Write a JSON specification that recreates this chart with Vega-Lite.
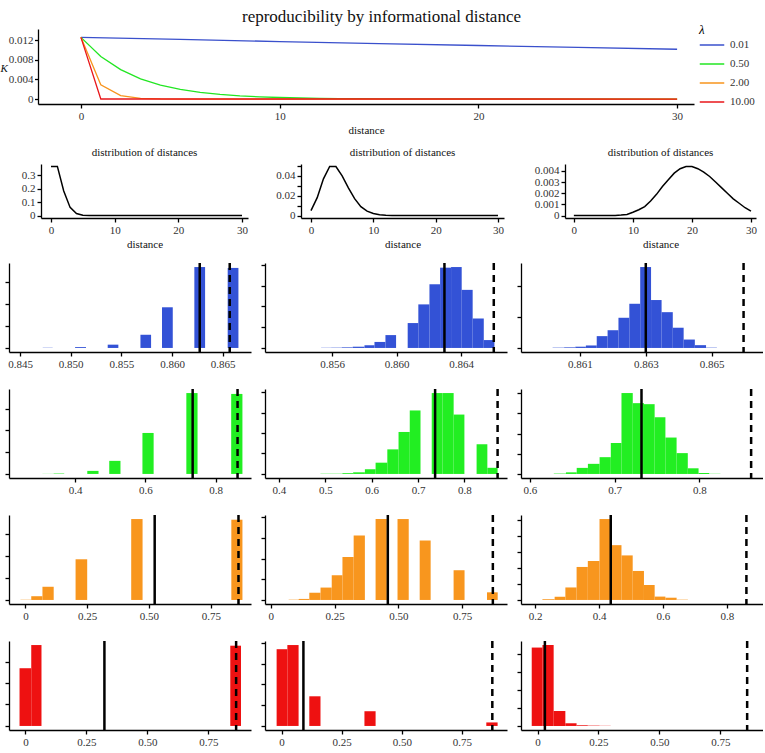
{
"$schema": "https://vega.github.io/schema/vega-lite/v6.json",
"padding": {"left": 0, "top": 8, "right": 0, "bottom": 0},
"background": "white",
"title": {"text": "reproducibility by informational distance", "fontSize": 17, "font": "Liberation Serif", "fontWeight": "normal", "anchor": "middle", "offset": -2, "color": "#111"},
"config": {
  "font": "Liberation Serif",
  "view": {"stroke": null},
  "style": {"guide-label": {"font": "Liberation Serif"}, "guide-title": {"font": "Liberation Serif"}, "group-title": {"font": "Liberation Serif"}},
  "axis": {"grid": false, "domainColor": "#000", "domainWidth": 1.3, "tickColor": "#000", "tickWidth": 1.3, "tickSize": 4, "labelFont": "Liberation Serif", "labelFontSize": 11, "labelColor": "#333", "labelPadding": 2, "titleFont": "Liberation Serif", "titleFontSize": 11, "titleFontWeight": "normal", "titleColor": "#111"},
  "legend": {"labelFont": "Liberation Serif", "titleFont": "Liberation Serif", "labelFontSize": 11, "labelColor": "#333"},
  "title": {"font": "Liberation Serif", "fontWeight": "normal", "color": "#111"}
},
"datasets": {
  "k": [
    {"lam": "0.01", "d": 0, "K": 0.01255}, {"lam": "0.01", "d": 5, "K": 0.01213}, {"lam": "0.01", "d": 10, "K": 0.0117}, {"lam": "0.01", "d": 15, "K": 0.01129}, {"lam": "0.01", "d": 20, "K": 0.01089}, {"lam": "0.01", "d": 25, "K": 0.0105}, {"lam": "0.01", "d": 30, "K": 0.01013},
    {"lam": "0.50", "d": 0, "K": 0.01255}, {"lam": "0.50", "d": 1, "K": 0.00866}, {"lam": "0.50", "d": 2, "K": 0.00598}, {"lam": "0.50", "d": 3, "K": 0.00412}, {"lam": "0.50", "d": 4, "K": 0.00285}, {"lam": "0.50", "d": 5, "K": 0.00196}, {"lam": "0.50", "d": 6, "K": 0.00135}, {"lam": "0.50", "d": 7, "K": 0.00093}, {"lam": "0.50", "d": 8, "K": 0.00064}, {"lam": "0.50", "d": 9, "K": 0.00044}, {"lam": "0.50", "d": 10, "K": 0.00031}, {"lam": "0.50", "d": 11, "K": 0.00021}, {"lam": "0.50", "d": 12, "K": 0.00015}, {"lam": "0.50", "d": 13, "K": 0.0001}, {"lam": "0.50", "d": 14, "K": 0.00007}, {"lam": "0.50", "d": 15, "K": 0.00005}, {"lam": "0.50", "d": 20, "K": 0.00001}, {"lam": "0.50", "d": 30, "K": 0},
    {"lam": "2.00", "d": 0, "K": 0.01255}, {"lam": "2.00", "d": 1, "K": 0.0029}, {"lam": "2.00", "d": 2, "K": 0.0007}, {"lam": "2.00", "d": 3, "K": 0.00015}, {"lam": "2.00", "d": 4, "K": 0.00003}, {"lam": "2.00", "d": 5, "K": 0}, {"lam": "2.00", "d": 30, "K": 0},
    {"lam": "10.00", "d": 0, "K": 0.01255}, {"lam": "10.00", "d": 1, "K": 0.00001}, {"lam": "10.00", "d": 30, "K": 0}
  ],
  "dist": [
    {"g": "a", "d": 0, "y": 0.368}, {"g": "a", "d": 1, "y": 0.368}, {"g": "a", "d": 2, "y": 0.184}, {"g": "a", "d": 3, "y": 0.061}, {"g": "a", "d": 4, "y": 0.015}, {"g": "a", "d": 5, "y": 0.003}, {"g": "a", "d": 6, "y": 0.0005}, {"g": "a", "d": 7, "y": 0.0001}, {"g": "a", "d": 8, "y": 0}, {"g": "a", "d": 30, "y": 0},
    {"g": "b", "d": 0, "y": 0.005}, {"g": "b", "d": 1, "y": 0.018}, {"g": "b", "d": 2, "y": 0.037}, {"g": "b", "d": 3, "y": 0.0495}, {"g": "b", "d": 4, "y": 0.0495}, {"g": "b", "d": 5, "y": 0.04}, {"g": "b", "d": 6, "y": 0.028}, {"g": "b", "d": 7, "y": 0.017}, {"g": "b", "d": 8, "y": 0.009}, {"g": "b", "d": 9, "y": 0.0045}, {"g": "b", "d": 10, "y": 0.002}, {"g": "b", "d": 11, "y": 0.0008}, {"g": "b", "d": 12, "y": 0.0003}, {"g": "b", "d": 13, "y": 0.0001}, {"g": "b", "d": 14, "y": 0}, {"g": "b", "d": 30, "y": 0},
    {"g": "c", "d": 0, "y": 0}, {"g": "c", "d": 6, "y": 0}, {"g": "c", "d": 7, "y": 0.00001}, {"g": "c", "d": 8, "y": 0.00004}, {"g": "c", "d": 9, "y": 0.0001}, {"g": "c", "d": 10, "y": 0.0003}, {"g": "c", "d": 11, "y": 0.00052}, {"g": "c", "d": 12, "y": 0.0008}, {"g": "c", "d": 13, "y": 0.0013}, {"g": "c", "d": 14, "y": 0.0019}, {"g": "c", "d": 15, "y": 0.0026}, {"g": "c", "d": 16, "y": 0.0032}, {"g": "c", "d": 17, "y": 0.0038}, {"g": "c", "d": 18, "y": 0.0042}, {"g": "c", "d": 19, "y": 0.0044}, {"g": "c", "d": 20, "y": 0.0044}, {"g": "c", "d": 21, "y": 0.0042}, {"g": "c", "d": 22, "y": 0.0039}, {"g": "c", "d": 23, "y": 0.0035}, {"g": "c", "d": 24, "y": 0.003}, {"g": "c", "d": 25, "y": 0.0025}, {"g": "c", "d": 26, "y": 0.002}, {"g": "c", "d": 27, "y": 0.0015}, {"g": "c", "d": 28, "y": 0.0011}, {"g": "c", "d": 29, "y": 0.0007}, {"g": "c", "d": 30, "y": 0.0004}
  ],
  "h": [
    {"p": "r1c1", "x0": 0.84724, "x1": 0.84822, "n": 0.01}, {"p": "r1c1", "x0": 0.85043, "x1": 0.85151, "n": 0.04}, {"p": "r1c1", "x0": 0.85365, "x1": 0.8547, "n": 0.15}, {"p": "r1c1", "x0": 0.85688, "x1": 0.85793, "n": 0.6}, {"p": "r1c1", "x0": 0.85901, "x1": 0.86007, "n": 1.85}, {"p": "r1c1", "x0": 0.8622, "x1": 0.86326, "n": 3.68}, {"p": "r1c1", "x0": 0.86549, "x1": 0.86655, "n": 3.64},
    {"p": "r1c2", "x0": 0.85532, "x1": 0.85594, "n": 0.01}, {"p": "r1c2", "x0": 0.85594, "x1": 0.8566, "n": 0.015}, {"p": "r1c2", "x0": 0.8566, "x1": 0.85728, "n": 0.03}, {"p": "r1c2", "x0": 0.85728, "x1": 0.85801, "n": 0.06}, {"p": "r1c2", "x0": 0.85801, "x1": 0.85863, "n": 0.13}, {"p": "r1c2", "x0": 0.85863, "x1": 0.85931, "n": 0.29}, {"p": "r1c2", "x0": 0.85931, "x1": 0.85997, "n": 0.62}, {"p": "r1c2", "x0": 0.86069, "x1": 0.86135, "n": 1.2}, {"p": "r1c2", "x0": 0.86135, "x1": 0.86204, "n": 2.1}, {"p": "r1c2", "x0": 0.86204, "x1": 0.8627, "n": 3.07}, {"p": "r1c2", "x0": 0.8627, "x1": 0.86338, "n": 3.87}, {"p": "r1c2", "x0": 0.86338, "x1": 0.86404, "n": 3.9}, {"p": "r1c2", "x0": 0.86404, "x1": 0.86472, "n": 2.8}, {"p": "r1c2", "x0": 0.86472, "x1": 0.86541, "n": 1.42}, {"p": "r1c2", "x0": 0.86541, "x1": 0.86607, "n": 0.38},
    {"p": "r1c3", "x0": 0.86017, "x1": 0.86052, "n": 0.01}, {"p": "r1c3", "x0": 0.86052, "x1": 0.86086, "n": 0.02}, {"p": "r1c3", "x0": 0.86086, "x1": 0.86118, "n": 0.04}, {"p": "r1c3", "x0": 0.86118, "x1": 0.86151, "n": 0.08}, {"p": "r1c3", "x0": 0.86151, "x1": 0.86184, "n": 0.38}, {"p": "r1c3", "x0": 0.86184, "x1": 0.86217, "n": 0.57}, {"p": "r1c3", "x0": 0.86217, "x1": 0.8625, "n": 0.97}, {"p": "r1c3", "x0": 0.8625, "x1": 0.86283, "n": 1.42}, {"p": "r1c3", "x0": 0.86283, "x1": 0.86316, "n": 2.6}, {"p": "r1c3", "x0": 0.86316, "x1": 0.86348, "n": 1.54}, {"p": "r1c3", "x0": 0.86348, "x1": 0.86382, "n": 1.15}, {"p": "r1c3", "x0": 0.86382, "x1": 0.86415, "n": 0.65}, {"p": "r1c3", "x0": 0.86415, "x1": 0.86449, "n": 0.27}, {"p": "r1c3", "x0": 0.86449, "x1": 0.86483, "n": 0.09}, {"p": "r1c3", "x0": 0.86483, "x1": 0.86516, "n": 0.01},
    {"p": "r2c1", "x0": 0.307, "x1": 0.339, "n": 0.005}, {"p": "r2c1", "x0": 0.339, "x1": 0.369, "n": 0.02}, {"p": "r2c1", "x0": 0.4347, "x1": 0.4667, "n": 0.14}, {"p": "r2c1", "x0": 0.4972, "x1": 0.5292, "n": 0.6}, {"p": "r2c1", "x0": 0.5917, "x1": 0.6236, "n": 1.88}, {"p": "r2c1", "x0": 0.7167, "x1": 0.7486, "n": 3.71}, {"p": "r2c1", "x0": 0.8444, "x1": 0.8764, "n": 3.67},
    {"p": "r2c2", "x0": 0.4895, "x1": 0.5368, "n": 0.015}, {"p": "r2c2", "x0": 0.5368, "x1": 0.56, "n": 0.04}, {"p": "r2c2", "x0": 0.56, "x1": 0.5853, "n": 0.08}, {"p": "r2c2", "x0": 0.5853, "x1": 0.6084, "n": 0.23}, {"p": "r2c2", "x0": 0.6084, "x1": 0.6337, "n": 0.55}, {"p": "r2c2", "x0": 0.6337, "x1": 0.6579, "n": 1.2}, {"p": "r2c2", "x0": 0.6579, "x1": 0.6821, "n": 2.05}, {"p": "r2c2", "x0": 0.6821, "x1": 0.7053, "n": 3.1}, {"p": "r2c2", "x0": 0.7295, "x1": 0.7526, "n": 3.95}, {"p": "r2c2", "x0": 0.7526, "x1": 0.7768, "n": 3.95}, {"p": "r2c2", "x0": 0.7768, "x1": 0.8, "n": 2.9}, {"p": "r2c2", "x0": 0.8263, "x1": 0.8495, "n": 1.45}, {"p": "r2c2", "x0": 0.8495, "x1": 0.8716, "n": 0.3},
    {"p": "r2c3", "x0": 0.6282, "x1": 0.6425, "n": 0.02}, {"p": "r2c3", "x0": 0.6425, "x1": 0.6552, "n": 0.08}, {"p": "r2c3", "x0": 0.6552, "x1": 0.6684, "n": 0.3}, {"p": "r2c3", "x0": 0.6684, "x1": 0.6822, "n": 0.5}, {"p": "r2c3", "x0": 0.6822, "x1": 0.6954, "n": 0.83}, {"p": "r2c3", "x0": 0.6954, "x1": 0.708, "n": 1.53}, {"p": "r2c3", "x0": 0.708, "x1": 0.7213, "n": 4.0}, {"p": "r2c3", "x0": 0.7213, "x1": 0.7345, "n": 3.5}, {"p": "r2c3", "x0": 0.7345, "x1": 0.7471, "n": 3.45}, {"p": "r2c3", "x0": 0.7471, "x1": 0.7598, "n": 2.8}, {"p": "r2c3", "x0": 0.7598, "x1": 0.773, "n": 1.8}, {"p": "r2c3", "x0": 0.773, "x1": 0.7862, "n": 1.03}, {"p": "r2c3", "x0": 0.7862, "x1": 0.7989, "n": 0.28}, {"p": "r2c3", "x0": 0.7989, "x1": 0.8115, "n": 0.05}, {"p": "r2c3", "x0": 0.8115, "x1": 0.8247, "n": 0.01},
    {"p": "r3c1", "x0": -0.02, "x1": 0.0237, "n": 0.01}, {"p": "r3c1", "x0": 0.0237, "x1": 0.069, "n": 0.17}, {"p": "r3c1", "x0": 0.069, "x1": 0.1145, "n": 0.6}, {"p": "r3c1", "x0": 0.203, "x1": 0.25, "n": 1.85}, {"p": "r3c1", "x0": 0.428, "x1": 0.474, "n": 3.68}, {"p": "r3c1", "x0": 0.833, "x1": 0.878, "n": 3.65},
    {"p": "r3c2", "x0": 0.07, "x1": 0.109, "n": 0.015}, {"p": "r3c2", "x0": 0.109, "x1": 0.151, "n": 0.05}, {"p": "r3c2", "x0": 0.151, "x1": 0.195, "n": 0.35}, {"p": "r3c2", "x0": 0.195, "x1": 0.239, "n": 0.6}, {"p": "r3c2", "x0": 0.239, "x1": 0.281, "n": 1.2}, {"p": "r3c2", "x0": 0.281, "x1": 0.325, "n": 2.08}, {"p": "r3c2", "x0": 0.325, "x1": 0.369, "n": 3.12}, {"p": "r3c2", "x0": 0.411, "x1": 0.455, "n": 3.92}, {"p": "r3c2", "x0": 0.497, "x1": 0.541, "n": 3.92}, {"p": "r3c2", "x0": 0.584, "x1": 0.627, "n": 2.88}, {"p": "r3c2", "x0": 0.717, "x1": 0.76, "n": 1.44}, {"p": "r3c2", "x0": 0.848, "x1": 0.89, "n": 0.37},
    {"p": "r3c3", "x0": 0.2229, "x1": 0.2611, "n": 0.04}, {"p": "r3c3", "x0": 0.2611, "x1": 0.2947, "n": 0.2}, {"p": "r3c3", "x0": 0.2947, "x1": 0.3298, "n": 0.78}, {"p": "r3c3", "x0": 0.3298, "x1": 0.3649, "n": 2.06}, {"p": "r3c3", "x0": 0.3649, "x1": 0.4015, "n": 2.43}, {"p": "r3c3", "x0": 0.4015, "x1": 0.4366, "n": 5.05}, {"p": "r3c3", "x0": 0.4366, "x1": 0.4702, "n": 3.42}, {"p": "r3c3", "x0": 0.4702, "x1": 0.5053, "n": 2.78}, {"p": "r3c3", "x0": 0.5053, "x1": 0.5405, "n": 1.81}, {"p": "r3c3", "x0": 0.5405, "x1": 0.574, "n": 0.93}, {"p": "r3c3", "x0": 0.574, "x1": 0.6076, "n": 0.21}, {"p": "r3c3", "x0": 0.6076, "x1": 0.6427, "n": 0.14}, {"p": "r3c3", "x0": 0.6427, "x1": 0.6779, "n": 0.02},
    {"p": "r4c1", "x0": -0.024, "x1": 0.024, "n": 2.69}, {"p": "r4c1", "x0": 0.024, "x1": 0.066, "n": 3.77}, {"p": "r4c1", "x0": 0.84, "x1": 0.884, "n": 3.74},
    {"p": "r4c2", "x0": -0.0203, "x1": 0.0243, "n": 3.7}, {"p": "r4c2", "x0": 0.0243, "x1": 0.071, "n": 3.9}, {"p": "r4c2", "x0": 0.1155, "x1": 0.162, "n": 1.43}, {"p": "r4c2", "x0": 0.3446, "x1": 0.391, "n": 0.71}, {"p": "r4c2", "x0": 0.851, "x1": 0.898, "n": 0.17},
    {"p": "r4c3", "x0": -0.024, "x1": 0.02, "n": 4.37}, {"p": "r4c3", "x0": 0.02, "x1": 0.066, "n": 4.51}, {"p": "r4c3", "x0": 0.066, "x1": 0.114, "n": 0.83}, {"p": "r4c3", "x0": 0.114, "x1": 0.16, "n": 0.15}, {"p": "r4c3", "x0": 0.16, "x1": 0.206, "n": 0.04}, {"p": "r4c3", "x0": 0.206, "x1": 0.254, "n": 0.02}, {"p": "r4c3", "x0": 0.254, "x1": 0.3, "n": 0.01}
  ],
  "v": [
    {"p": "r1c1", "t": "mean", "v": 0.86273}, {"p": "r1c1", "t": "max", "v": 0.86569},
    {"p": "r1c2", "t": "mean", "v": 0.86297}, {"p": "r1c2", "t": "max", "v": 0.86603},
    {"p": "r1c3", "t": "mean", "v": 0.863}, {"p": "r1c3", "t": "max", "v": 0.86597},
    {"p": "r2c1", "t": "mean", "v": 0.7347}, {"p": "r2c1", "t": "max", "v": 0.8625},
    {"p": "r2c2", "t": "mean", "v": 0.7368}, {"p": "r2c2", "t": "max", "v": 0.8716},
    {"p": "r2c3", "t": "mean", "v": 0.7316}, {"p": "r2c3", "t": "max", "v": 0.8609},
    {"p": "r3c1", "t": "mean", "v": 0.523}, {"p": "r3c1", "t": "max", "v": 0.862},
    {"p": "r3c2", "t": "mean", "v": 0.459}, {"p": "r3c2", "t": "max", "v": 0.871},
    {"p": "r3c3", "t": "mean", "v": 0.4366}, {"p": "r3c3", "t": "max", "v": 0.861},
    {"p": "r4c1", "t": "mean", "v": 0.324}, {"p": "r4c1", "t": "max", "v": 0.864},
    {"p": "r4c2", "t": "mean", "v": 0.091}, {"p": "r4c2", "t": "max", "v": 0.876},
    {"p": "r4c3", "t": "mean", "v": 0.03}, {"p": "r4c3", "t": "max", "v": 0.86}
  ]
},
"spacing": 12,
"vconcat": [
  {"hconcat": [
    {"width": 29, "height": 75, "data": {"values": [{"a": 1}]}, "mark": {"type": "text", "text": ""}},
    {"width": 656, "height": 75, "data": {"name": "k"},
     "mark": {"type": "line", "strokeWidth": 1.3, "clip": true},
     "encoding": {
       "x": {"field": "d", "type": "quantitative", "scale": {"domain": [-2.16, 30.85], "nice": false, "zero": false}, "axis": {"values": [0, 10, 20, 30], "title": "distance", "titlePadding": 3}},
       "y": {"field": "K", "type": "quantitative", "scale": {"domain": [-0.00101, 0.01425], "nice": false, "zero": false}, "axis": {"values": [0, 0.004, 0.008, 0.012], "tickSize": 3.5, "labelPadding": 1.5, "labelExpr": "datum.value == 0 ? '0' : format(datum.value, '.3f')", "title": "K", "titleAngle": 0, "titleFontStyle": "italic", "titleFontSize": 11, "titleX": -38, "titleY": 39, "titleAlign": "left", "titleBaseline": "middle"}},
       "color": {"field": "lam", "type": "nominal", "scale": {"domain": ["0.01", "0.50", "2.00", "10.00"], "range": ["#3A50CC", "#22E622", "#F7941D", "#E8161A"]}, "legend": {"title": "λ", "orient": "none", "legendX": 690, "legendY": -5, "titleFontStyle": "italic", "titleFontSize": 13, "titleFontWeight": "normal", "symbolType": "stroke", "symbolStrokeWidth": 1.5, "symbolSize": 600, "rowPadding": 1, "labelOffset": 5, "titlePadding": -5}}
     }}
  ], "spacing": 0, "bounds": "flush"},
  {"spacing": 12, "vconcat": [
    {"hconcat": [
      {"width": 32, "height": 54, "data": {"values": [{"a": 1}]}, "mark": {"type": "text", "text": ""}},
      {"width": 207, "height": 54, "title": {"text": "distribution of distances", "fontSize": 11, "offset": 5, "font": "Liberation Serif"},
       "data": {"name": "dist"}, "transform": [{"filter": "datum.g == 'a'"}],
       "mark": {"type": "line", "color": "black", "strokeWidth": 1.5},
       "encoding": {
         "x": {"field": "d", "type": "quantitative", "scale": {"domain": [-1.57, 30.94], "nice": false, "zero": false}, "axis": {"values": [0, 10, 20, 30], "title": "distance", "titlePadding": 3}},
         "y": {"field": "y", "type": "quantitative", "scale": {"domain": [-0.0184, 0.386], "nice": false, "zero": false}, "axis": {"values": [0, 0.1, 0.2, 0.3], "format": "~g", "title": null}}
       }},
      {"width": 53, "height": 54, "data": {"values": [{"a": 1}]}, "mark": {"type": "text", "text": ""}},
      {"width": 203, "height": 54, "title": {"text": "distribution of distances", "fontSize": 11, "offset": 5, "font": "Liberation Serif"},
       "data": {"name": "dist"}, "transform": [{"filter": "datum.g == 'b'"}],
       "mark": {"type": "line", "color": "black", "strokeWidth": 1.5},
       "encoding": {
         "x": {"field": "d", "type": "quantitative", "scale": {"domain": [-1.6, 30.96], "nice": false, "zero": false}, "axis": {"values": [0, 10, 20, 30], "title": "distance", "titlePadding": 3}},
         "y": {"field": "y", "type": "quantitative", "scale": {"domain": [-0.00248, 0.052], "nice": false, "zero": false}, "axis": {"values": [0, 0.01, 0.02, 0.03, 0.04, 0.05], "format": "~g", "title": null}}
       }},
      {"width": 61, "height": 54, "data": {"values": [{"a": 1}]}, "mark": {"type": "text", "text": ""}},
      {"width": 191, "height": 54, "title": {"text": "distribution of distances", "fontSize": 11, "offset": 5, "font": "Liberation Serif"},
       "data": {"name": "dist"}, "transform": [{"filter": "datum.g == 'c'"}],
       "mark": {"type": "line", "color": "black", "strokeWidth": 1.5},
       "encoding": {
         "x": {"field": "d", "type": "quantitative", "scale": {"domain": [-1.5, 30.85], "nice": false, "zero": false}, "axis": {"values": [0, 10, 20, 30], "title": "distance", "titlePadding": 3}},
         "y": {"field": "y", "type": "quantitative", "scale": {"domain": [-0.00022, 0.00462], "nice": false, "zero": false}, "axis": {"values": [0, 0.001, 0.002, 0.003, 0.004], "format": "~g", "title": null}}
       }}
    ], "spacing": 0, "bounds": "flush"},
    {"spacing": 18, "vconcat": [
      {"hconcat": [
        {"width": 242, "height": 89, "layer": [
          {"data": {"name": "h"}, "transform": [{"filter": "datum.p == 'r1c1'"}], "mark": {"type": "rect", "color": "#3352D6", "clip": true},
           "encoding": {"x": {"field": "x0", "type": "quantitative", "scale": {"domain": [0.84391, 0.86779], "nice": false, "zero": false}, "axis": {"values": [0.845, 0.85, 0.855, 0.86, 0.865], "format": ".3f", "title": null}}, "x2": {"field": "x1"},
             "y": {"field": "n", "type": "quantitative", "scale": {"domain": [-0.184, 3.864], "nice": false, "zero": false}, "axis": {"values": [0, 1, 2, 3], "labels": false, "title": null}}, "y2": {"datum": 0}}},
          {"data": {"name": "v"}, "transform": [{"filter": "datum.p == 'r1c1' && datum.t == 'mean'"}], "mark": {"type": "rule", "color": "black", "strokeWidth": 2.5}, "encoding": {"x": {"field": "v", "type": "quantitative"}}},
          {"data": {"name": "v"}, "transform": [{"filter": "datum.p == 'r1c1' && datum.t == 'max'"}], "mark": {"type": "rule", "color": "black", "strokeWidth": 2.5, "strokeDash": [7, 5]}, "encoding": {"x": {"field": "v", "type": "quantitative"}}}
        ]},
        {"width": 242, "height": 89, "layer": [
          {"data": {"name": "h"}, "transform": [{"filter": "datum.p == 'r1c2'"}], "mark": {"type": "rect", "color": "#3352D6", "clip": true},
           "encoding": {"x": {"field": "x0", "type": "quantitative", "scale": {"domain": [0.85184, 0.86685], "nice": false, "zero": false}, "axis": {"values": [0.856, 0.86, 0.864], "format": ".3f", "title": null}}, "x2": {"field": "x1"},
             "y": {"field": "n", "type": "quantitative", "scale": {"domain": [-0.195, 4.095], "nice": false, "zero": false}, "axis": {"values": [0, 1, 2, 3, 4], "labels": false, "title": null}}, "y2": {"datum": 0}}},
          {"data": {"name": "v"}, "transform": [{"filter": "datum.p == 'r1c2' && datum.t == 'mean'"}], "mark": {"type": "rule", "color": "black", "strokeWidth": 2.5}, "encoding": {"x": {"field": "v", "type": "quantitative"}}},
          {"data": {"name": "v"}, "transform": [{"filter": "datum.p == 'r1c2' && datum.t == 'max'"}], "mark": {"type": "rule", "color": "black", "strokeWidth": 2.5, "strokeDash": [7, 5]}, "encoding": {"x": {"field": "v", "type": "quantitative"}}}
        ]},
        {"width": 242, "height": 89, "layer": [
          {"data": {"name": "h"}, "transform": [{"filter": "datum.p == 'r1c3'"}], "mark": {"type": "rect", "color": "#3352D6", "clip": true},
           "encoding": {"x": {"field": "x0", "type": "quantitative", "scale": {"domain": [0.85921, 0.86656], "nice": false, "zero": false}, "axis": {"values": [0.861, 0.863, 0.865], "format": ".3f", "title": null}}, "x2": {"field": "x1"},
             "y": {"field": "n", "type": "quantitative", "scale": {"domain": [-0.13, 2.73], "nice": false, "zero": false}, "axis": {"values": [0, 1, 2], "labels": false, "title": null}}, "y2": {"datum": 0}}},
          {"data": {"name": "v"}, "transform": [{"filter": "datum.p == 'r1c3' && datum.t == 'mean'"}], "mark": {"type": "rule", "color": "black", "strokeWidth": 2.5}, "encoding": {"x": {"field": "v", "type": "quantitative"}}},
          {"data": {"name": "v"}, "transform": [{"filter": "datum.p == 'r1c3' && datum.t == 'max'"}], "mark": {"type": "rule", "color": "black", "strokeWidth": 2.5, "strokeDash": [7, 5]}, "encoding": {"x": {"field": "v", "type": "quantitative"}}}
        ]}
      ], "spacing": 14, "bounds": "flush"},
      {"hconcat": [
        {"width": 242, "height": 89, "layer": [
          {"data": {"name": "h"}, "transform": [{"filter": "datum.p == 'r2c1'"}], "mark": {"type": "rect", "color": "#22EE22", "clip": true},
           "encoding": {"x": {"field": "x0", "type": "quantitative", "scale": {"domain": [0.2118, 0.9008], "nice": false, "zero": false}, "axis": {"values": [0.4, 0.6, 0.8], "format": ".1f", "title": null}}, "x2": {"field": "x1"},
             "y": {"field": "n", "type": "quantitative", "scale": {"domain": [-0.186, 3.896], "nice": false, "zero": false}, "axis": {"values": [0, 1, 2, 3], "labels": false, "title": null}}, "y2": {"datum": 0}}},
          {"data": {"name": "v"}, "transform": [{"filter": "datum.p == 'r2c1' && datum.t == 'mean'"}], "mark": {"type": "rule", "color": "black", "strokeWidth": 2.5}, "encoding": {"x": {"field": "v", "type": "quantitative"}}},
          {"data": {"name": "v"}, "transform": [{"filter": "datum.p == 'r2c1' && datum.t == 'max'"}], "mark": {"type": "rule", "color": "black", "strokeWidth": 2.5, "strokeDash": [7, 5]}, "encoding": {"x": {"field": "v", "type": "quantitative"}}}
        ]},
        {"width": 242, "height": 89, "layer": [
          {"data": {"name": "h"}, "transform": [{"filter": "datum.p == 'r2c2'"}], "mark": {"type": "rect", "color": "#22EE22", "clip": true},
           "encoding": {"x": {"field": "x0", "type": "quantitative", "scale": {"domain": [0.3698, 0.8919], "nice": false, "zero": false}, "axis": {"values": [0.4, 0.5, 0.6, 0.7, 0.8], "format": ".1f", "title": null}}, "x2": {"field": "x1"},
             "y": {"field": "n", "type": "quantitative", "scale": {"domain": [-0.198, 4.148], "nice": false, "zero": false}, "axis": {"values": [0, 1, 2, 3, 4], "labels": false, "title": null}}, "y2": {"datum": 0}}},
          {"data": {"name": "v"}, "transform": [{"filter": "datum.p == 'r2c2' && datum.t == 'mean'"}], "mark": {"type": "rule", "color": "black", "strokeWidth": 2.5}, "encoding": {"x": {"field": "v", "type": "quantitative"}}},
          {"data": {"name": "v"}, "transform": [{"filter": "datum.p == 'r2c2' && datum.t == 'max'"}], "mark": {"type": "rule", "color": "black", "strokeWidth": 2.5, "strokeDash": [7, 5]}, "encoding": {"x": {"field": "v", "type": "quantitative"}}}
        ]},
        {"width": 242, "height": 89, "layer": [
          {"data": {"name": "h"}, "transform": [{"filter": "datum.p == 'r2c3'"}], "mark": {"type": "rect", "color": "#22EE22", "clip": true},
           "encoding": {"x": {"field": "x0", "type": "quantitative", "scale": {"domain": [0.5895, 0.8749], "nice": false, "zero": false}, "axis": {"values": [0.6, 0.7, 0.8], "format": ".1f", "title": null}}, "x2": {"field": "x1"},
             "y": {"field": "n", "type": "quantitative", "scale": {"domain": [-0.2, 4.2], "nice": false, "zero": false}, "axis": {"values": [0, 1, 2, 3, 4], "labels": false, "title": null}}, "y2": {"datum": 0}}},
          {"data": {"name": "v"}, "transform": [{"filter": "datum.p == 'r2c3' && datum.t == 'mean'"}], "mark": {"type": "rule", "color": "black", "strokeWidth": 2.5}, "encoding": {"x": {"field": "v", "type": "quantitative"}}},
          {"data": {"name": "v"}, "transform": [{"filter": "datum.p == 'r2c3' && datum.t == 'max'"}], "mark": {"type": "rule", "color": "black", "strokeWidth": 2.5, "strokeDash": [7, 5]}, "encoding": {"x": {"field": "v", "type": "quantitative"}}}
        ]}
      ], "spacing": 14, "bounds": "flush"},
      {"hconcat": [
        {"width": 242, "height": 89, "layer": [
          {"data": {"name": "h"}, "transform": [{"filter": "datum.p == 'r3c1'"}], "mark": {"type": "rect", "color": "#F8961E", "clip": true},
           "encoding": {"x": {"field": "x0", "type": "quantitative", "scale": {"domain": [-0.0663, 0.9126], "nice": false, "zero": false}, "axis": {"values": [0, 0.25, 0.5, 0.75], "labelExpr": "datum.value == 0 ? '0' : format(datum.value, '.2f')", "title": null}}, "x2": {"field": "x1"},
             "y": {"field": "n", "type": "quantitative", "scale": {"domain": [-0.184, 3.864], "nice": false, "zero": false}, "axis": {"values": [0, 1, 2, 3], "labels": false, "title": null}}, "y2": {"datum": 0}}},
          {"data": {"name": "v"}, "transform": [{"filter": "datum.p == 'r3c1' && datum.t == 'mean'"}], "mark": {"type": "rule", "color": "black", "strokeWidth": 2.5}, "encoding": {"x": {"field": "v", "type": "quantitative"}}},
          {"data": {"name": "v"}, "transform": [{"filter": "datum.p == 'r3c1' && datum.t == 'max'"}], "mark": {"type": "rule", "color": "black", "strokeWidth": 2.5, "strokeDash": [7, 5]}, "encoding": {"x": {"field": "v", "type": "quantitative"}}}
        ]},
        {"width": 242, "height": 89, "layer": [
          {"data": {"name": "h"}, "transform": [{"filter": "datum.p == 'r3c2'"}], "mark": {"type": "rect", "color": "#F8961E", "clip": true},
           "encoding": {"x": {"field": "x0", "type": "quantitative", "scale": {"domain": [-0.0228, 0.9265], "nice": false, "zero": false}, "axis": {"values": [0, 0.25, 0.5, 0.75], "labelExpr": "datum.value == 0 ? '0' : format(datum.value, '.2f')", "title": null}}, "x2": {"field": "x1"},
             "y": {"field": "n", "type": "quantitative", "scale": {"domain": [-0.196, 4.116], "nice": false, "zero": false}, "axis": {"values": [0, 1, 2, 3, 4], "labels": false, "title": null}}, "y2": {"datum": 0}}},
          {"data": {"name": "v"}, "transform": [{"filter": "datum.p == 'r3c2' && datum.t == 'mean'"}], "mark": {"type": "rule", "color": "black", "strokeWidth": 2.5}, "encoding": {"x": {"field": "v", "type": "quantitative"}}},
          {"data": {"name": "v"}, "transform": [{"filter": "datum.p == 'r3c2' && datum.t == 'max'"}], "mark": {"type": "rule", "color": "black", "strokeWidth": 2.5, "strokeDash": [7, 5]}, "encoding": {"x": {"field": "v", "type": "quantitative"}}}
        ]},
        {"width": 242, "height": 89, "layer": [
          {"data": {"name": "h"}, "transform": [{"filter": "datum.p == 'r3c3'"}], "mark": {"type": "rect", "color": "#F8961E", "clip": true},
           "encoding": {"x": {"field": "x0", "type": "quantitative", "scale": {"domain": [0.1559, 0.9129], "nice": false, "zero": false}, "axis": {"values": [0.2, 0.4, 0.6, 0.8], "format": ".1f", "title": null}}, "x2": {"field": "x1"},
             "y": {"field": "n", "type": "quantitative", "scale": {"domain": [-0.2525, 5.3025], "nice": false, "zero": false}, "axis": {"values": [0, 1, 2, 3, 4, 5], "labels": false, "title": null}}, "y2": {"datum": 0}}},
          {"data": {"name": "v"}, "transform": [{"filter": "datum.p == 'r3c3' && datum.t == 'mean'"}], "mark": {"type": "rule", "color": "black", "strokeWidth": 2.5}, "encoding": {"x": {"field": "v", "type": "quantitative"}}},
          {"data": {"name": "v"}, "transform": [{"filter": "datum.p == 'r3c3' && datum.t == 'max'"}], "mark": {"type": "rule", "color": "black", "strokeWidth": 2.5, "strokeDash": [7, 5]}, "encoding": {"x": {"field": "v", "type": "quantitative"}}}
        ]}
      ], "spacing": 14, "bounds": "flush"},
      {"hconcat": [
        {"width": 242, "height": 89, "layer": [
          {"data": {"name": "h"}, "transform": [{"filter": "datum.p == 'r4c1'"}], "mark": {"type": "rect", "color": "#EE1111", "clip": true},
           "encoding": {"x": {"field": "x0", "type": "quantitative", "scale": {"domain": [-0.0672, 0.925], "nice": false, "zero": false}, "axis": {"values": [0, 0.25, 0.5, 0.75], "labelExpr": "datum.value == 0 ? '0' : format(datum.value, '.2f')", "title": null}}, "x2": {"field": "x1"},
             "y": {"field": "n", "type": "quantitative", "scale": {"domain": [-0.1885, 3.9585], "nice": false, "zero": false}, "axis": {"values": [0, 1, 2, 3], "labels": false, "title": null}}, "y2": {"datum": 0}}},
          {"data": {"name": "v"}, "transform": [{"filter": "datum.p == 'r4c1' && datum.t == 'mean'"}], "mark": {"type": "rule", "color": "black", "strokeWidth": 2.5}, "encoding": {"x": {"field": "v", "type": "quantitative"}}},
          {"data": {"name": "v"}, "transform": [{"filter": "datum.p == 'r4c1' && datum.t == 'max'"}], "mark": {"type": "rule", "color": "black", "strokeWidth": 2.5, "strokeDash": [7, 5]}, "encoding": {"x": {"field": "v", "type": "quantitative"}}}
        ]},
        {"width": 242, "height": 89, "layer": [
          {"data": {"name": "h"}, "transform": [{"filter": "datum.p == 'r4c2'"}], "mark": {"type": "rect", "color": "#EE1111", "clip": true},
           "encoding": {"x": {"field": "x0", "type": "quantitative", "scale": {"domain": [-0.0686, 0.937], "nice": false, "zero": false}, "axis": {"values": [0, 0.25, 0.5, 0.75], "labelExpr": "datum.value == 0 ? '0' : format(datum.value, '.2f')", "title": null}}, "x2": {"field": "x1"},
             "y": {"field": "n", "type": "quantitative", "scale": {"domain": [-0.195, 4.095], "nice": false, "zero": false}, "axis": {"values": [0, 1, 2, 3, 4], "labels": false, "title": null}}, "y2": {"datum": 0}}},
          {"data": {"name": "v"}, "transform": [{"filter": "datum.p == 'r4c2' && datum.t == 'mean'"}], "mark": {"type": "rule", "color": "black", "strokeWidth": 2.5}, "encoding": {"x": {"field": "v", "type": "quantitative"}}},
          {"data": {"name": "v"}, "transform": [{"filter": "datum.p == 'r4c2' && datum.t == 'max'"}], "mark": {"type": "rule", "color": "black", "strokeWidth": 2.5, "strokeDash": [7, 5]}, "encoding": {"x": {"field": "v", "type": "quantitative"}}}
        ]},
        {"width": 242, "height": 89, "layer": [
          {"data": {"name": "h"}, "transform": [{"filter": "datum.p == 'r4c3'"}], "mark": {"type": "rect", "color": "#EE1111", "clip": true},
           "encoding": {"x": {"field": "x0", "type": "quantitative", "scale": {"domain": [-0.068, 0.925], "nice": false, "zero": false}, "axis": {"values": [0, 0.25, 0.5, 0.75], "labelExpr": "datum.value == 0 ? '0' : format(datum.value, '.2f')", "title": null}}, "x2": {"field": "x1"},
             "y": {"field": "n", "type": "quantitative", "scale": {"domain": [-0.2255, 4.7355], "nice": false, "zero": false}, "axis": {"values": [0, 1, 2, 3, 4], "labels": false, "title": null}}, "y2": {"datum": 0}}},
          {"data": {"name": "v"}, "transform": [{"filter": "datum.p == 'r4c3' && datum.t == 'mean'"}], "mark": {"type": "rule", "color": "black", "strokeWidth": 2.5}, "encoding": {"x": {"field": "v", "type": "quantitative"}}},
          {"data": {"name": "v"}, "transform": [{"filter": "datum.p == 'r4c3' && datum.t == 'max'"}], "mark": {"type": "rule", "color": "black", "strokeWidth": 2.5, "strokeDash": [7, 5]}, "encoding": {"x": {"field": "v", "type": "quantitative"}}}
        ]}
      ], "spacing": 14, "bounds": "flush"}
    ]}
  ]}
]
}
